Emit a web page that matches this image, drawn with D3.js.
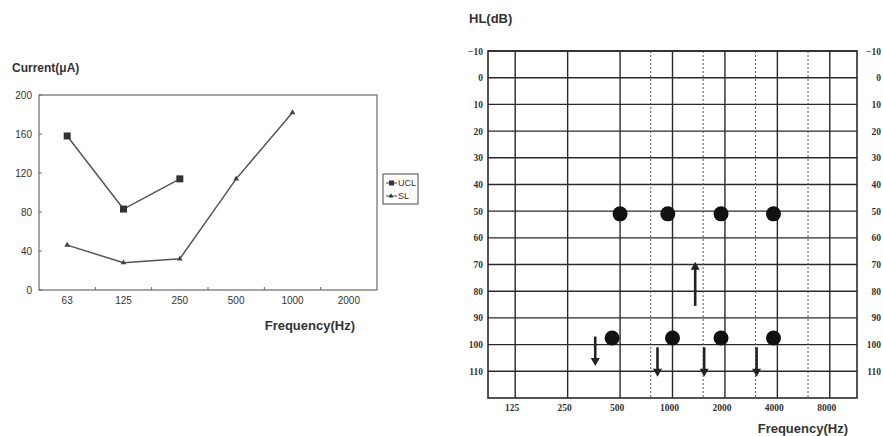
<!DOCTYPE html>
<html><head><meta charset="utf-8">
<script src="https://cdn.jsdelivr.net/npm/d3@7"></script>
<style>body{margin:0;background:#fff}svg{display:block}</style>
</head><body>
<svg id="c" width="883" height="436"></svg>
<script>
// ---- Left chart data ----
const leftCategories = ["63","125","250","500","1000","2000"];
const leftYTicks = [0,40,80,120,160,200];
const uclValues = [["63",158],["125",83],["250",114]];
const slValues = [["63",46],["125",28],["250",32],["500",114],["1000",182]];
const legendLabels = ["UCL","SL"];

// ---- Right chart (audiogram) data ----
const hlTicks = [-10,0,10,20,30,40,50,60,70,80,90,100,110];
const freqTicks = [125,250,500,1000,2000,4000,8000];
const halfOctaves = [750,1500,3000,6000];
const upperDots = [[500,51],[940,51],[1900,51],[3800,51]];
const lowerDots = [[450,97.5],[1000,97.5],[1900,97.5],[3800,97.5]];
const downArrows = [[360,97,108],[820,101,112],[1520,101,112],[3040,101,112]];
const upArrows = [[1350,85.5,69]];

const svg = d3.select("#c");
const ink = "#2a2a2a";

// ===== Left chart =====
const L = {x0:39, x1:377, y0:95, y1:290};
const xb = d3.scalePoint().domain(leftCategories).range([L.x0, L.x1]).padding(0.5);
const xband = d3.scaleBand().domain(leftCategories).range([L.x0, L.x1]);
const yL = d3.scaleLinear().domain([0,200]).range([L.y1, L.y0]);
const gl = svg.append("g");
gl.append("rect").attr("x",L.x0).attr("y",L.y0).attr("width",L.x1-L.x0).attr("height",L.y1-L.y0)
  .attr("fill","none").attr("stroke","#6a6a6a").attr("stroke-width",1.2);
gl.selectAll(".xt").data(leftCategories.slice(1)).join("line")
  .attr("x1",d=>xband(d)).attr("x2",d=>xband(d)).attr("y1",L.y1-3).attr("y2",L.y1)
  .attr("stroke","#6a6a6a");
gl.selectAll(".xl").data(leftCategories).join("text")
  .attr("x",d=>xb(d)).attr("y",L.y1+14).attr("text-anchor","middle")
  .attr("font-family","Liberation Sans, Arial").attr("font-size",10).attr("fill","#333").text(d=>d);
gl.selectAll(".yl").data(leftYTicks).join("text")
  .attr("x",L.x0-7).attr("y",d=>yL(d)+3.5).attr("text-anchor","end")
  .attr("font-family","Liberation Sans, Arial").attr("font-size",10).attr("fill","#333").text(d=>d);
gl.selectAll(".yt").data(leftYTicks).join("line")
  .attr("x1",L.x0).attr("x2",L.x0+3).attr("y1",d=>yL(d)).attr("y2",d=>yL(d)).attr("stroke","#6a6a6a");
gl.append("text").attr("x",12).attr("y",72).attr("font-family","Liberation Sans, Arial")
  .attr("font-weight","bold").attr("font-size",12).attr("fill","#333").text("Current(μA)");
gl.append("text").attr("x",355).attr("y",330).attr("text-anchor","end").attr("font-family","Liberation Sans, Arial")
  .attr("font-weight","bold").attr("font-size",13).attr("fill","#333").text("Frequency(Hz)");
const lineL = d3.line().x(d=>xb(d[0])).y(d=>yL(d[1]));
gl.append("path").attr("d",lineL(uclValues)).attr("fill","none").attr("stroke","#555").attr("stroke-width",1.5);
gl.append("path").attr("d",lineL(slValues)).attr("fill","none").attr("stroke","#555").attr("stroke-width",1.5);
gl.selectAll(".ucl").data(uclValues).join("rect")
  .attr("x",d=>xb(d[0])-3.5).attr("y",d=>yL(d[1])-3.5).attr("width",7).attr("height",7).attr("fill","#333");
const tri = d3.symbol().type(d3.symbolTriangle).size(14);
gl.selectAll(".sl").data(slValues).join("path")
  .attr("transform",d=>`translate(${xb(d[0])},${yL(d[1])})`).attr("d",tri()).attr("fill","#444");
// legend
const lg = gl.append("g");
lg.append("rect").attr("x",383).attr("y",174).attr("width",35).attr("height",30)
  .attr("fill","#fff").attr("stroke","#666").attr("stroke-width",1.2);
legendLabels.forEach((t,i)=>{
  const y = 183 + i*13;
  lg.append("line").attr("x1",386).attr("x2",397).attr("y1",y).attr("y2",y).attr("stroke","#444");
  if(i===0) lg.append("rect").attr("x",389).attr("y",y-2.5).attr("width",5).attr("height",5).attr("fill","#333");
  else lg.append("path").attr("transform",`translate(391,${y})`).attr("d",d3.symbol().type(d3.symbolTriangle).size(10)()).attr("fill","#333");
  lg.append("text").attr("x",398).attr("y",y+3).attr("font-family","Liberation Sans, Arial")
    .attr("font-size",9).attr("fill","#333").text(t);
});

// ===== Right chart =====
const R = {x0:488, x1:857, y0:51, y1:398};
const xR = d3.scaleLog().base(2).domain([125/Math.SQRT2, 8000*Math.SQRT2]).range([R.x0+1, R.x1-1]);
const yR = d3.scaleLinear().domain([-10,120]).range([R.y0, R.y1]);
const gr = svg.append("g");
gr.selectAll(".hg").data(hlTicks).join("line")
  .attr("x1",R.x0).attr("x2",R.x1).attr("y1",d=>yR(d)).attr("y2",d=>yR(d))
  .attr("stroke",ink).attr("stroke-width",1.4);
gr.selectAll(".vg").data(freqTicks).join("line")
  .attr("x1",d=>xR(d)).attr("x2",d=>xR(d)).attr("y1",R.y0).attr("y2",R.y1)
  .attr("stroke",ink).attr("stroke-width",1.4);
gr.selectAll(".vd").data(halfOctaves).join("line")
  .attr("x1",d=>xR(d)).attr("x2",d=>xR(d)).attr("y1",R.y0).attr("y2",R.y1)
  .attr("stroke","#555").attr("stroke-width",1).attr("stroke-dasharray","2,2");
gr.append("rect").attr("x",R.x0).attr("y",R.y0).attr("width",R.x1-R.x0).attr("height",R.y1-R.y0)
  .attr("fill","none").attr("stroke",ink).attr("stroke-width",1.6);
const tickFont = "Liberation Serif, Times New Roman";
gr.selectAll(".ylr").data(hlTicks).join("text")
  .attr("x",R.x0-5).attr("y",d=>yR(d)+3.5).attr("text-anchor","end")
  .attr("font-family",tickFont).attr("font-weight","bold").attr("font-size",9.5).attr("fill","#333")
  .text(d=>d<0?"−"+Math.abs(d):d);
gr.selectAll(".yrr").data(hlTicks).join("text")
  .attr("x",881).attr("y",d=>yR(d)+3.5).attr("text-anchor","end")
  .attr("font-family",tickFont).attr("font-weight","bold").attr("font-size",9.5).attr("fill","#333")
  .text(d=>d<0?"−"+Math.abs(d):d);
gr.selectAll(".xlr").data(freqTicks).join("text")
  .attr("x",d=>xR(d)-3).attr("y",R.y1+13).attr("text-anchor","middle")
  .attr("font-family",tickFont).attr("font-weight","bold").attr("font-size",9.5).attr("fill","#333").text(d=>d);
gr.append("text").attr("x",469).attr("y",23).attr("font-family","Liberation Sans, Arial")
  .attr("font-weight","bold").attr("font-size",13).attr("fill","#333").text("HL(dB)");
gr.append("text").attr("x",848).attr("y",433).attr("text-anchor","end").attr("font-family","Liberation Sans, Arial")
  .attr("font-weight","bold").attr("font-size",13).attr("fill","#333").text("Frequency(Hz)");
gr.selectAll(".dot").data(upperDots.concat(lowerDots)).join("circle")
  .attr("cx",d=>xR(d[0])).attr("cy",d=>yR(d[1])).attr("r",7.5).attr("fill","#111");
function arrow(g, f, a, b){
  const x = xR(f), ya = yR(a), yb = yR(b);
  const dir = yb > ya ? 1 : -1;
  g.append("line").attr("x1",x).attr("x2",x).attr("y1",ya).attr("y2",yb-dir*7)
    .attr("stroke","#222").attr("stroke-width",2.6);
  g.append("path").attr("d",`M${x-4.5},${yb-dir*8}L${x+4.5},${yb-dir*8}L${x},${yb}Z`).attr("fill","#222");
}
downArrows.concat(upArrows).forEach(d=>arrow(gr,d[0],d[1],d[2]));
</script>
</body></html>
